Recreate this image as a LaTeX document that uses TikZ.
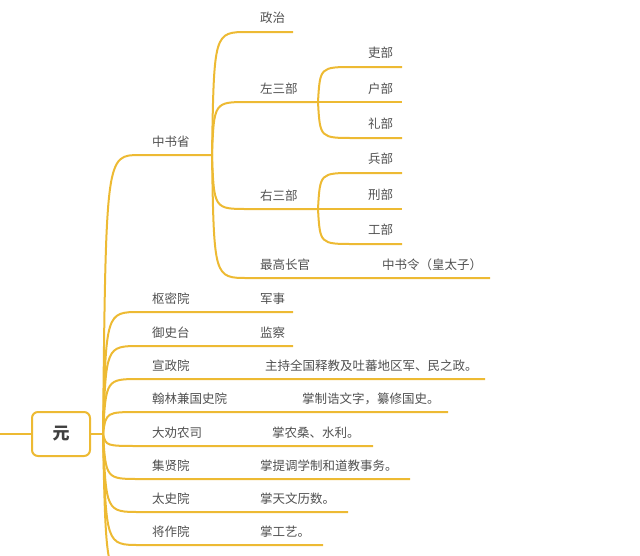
\documentclass[tikz,border=0pt]{standalone}
\usepackage{fontspec}
\newfontfamily\cjk{Noto Sans CJK SC}
\definecolor{br}{HTML}{EDBA33}
\definecolor{tx}{HTML}{505050}
\begin{document}
\begin{tikzpicture}[x=1pt,y=-1pt,
  ln/.style={draw=br,line width=2pt},
  lb/.style={anchor=west,inner sep=0pt,text=tx,font=\cjk\fontsize{12.5}{14}\selectfont}]
\useasboundingbox (0,0) rectangle (640,555);
\clip (0,0) rectangle (640,555);
\node[draw=br,line width=2pt,rounded corners=6pt,fill=white,minimum width=58pt,minimum height=44pt,font=\cjk\bfseries\fontsize{17}{19}\selectfont,text=black!75] (root) at (61,434) {元};
\coordinate (L) at (0,434);
\coordinate (J) at (103,434);
\draw[ln] (L) -- (root.west);
\draw[ln] (root.east) -- (J);
% level 1
\foreach \n/\y/\e in {a/155/212, b/312/293, c/346/293, d/379/485, e/412/448, f/446/373, g/479/410, h/512/348, i/545/323, k/580/300}{
  \coordinate (s\n) at (140,\y);
  \coordinate (e\n) at (\e,\y);
  \draw[ln] (J) .. controls (106,\y) .. (s\n) -- (e\n);
}
\node[lb] (t1) at (152,142) {中书省};
\node[lb] (t2) at (152,299) {枢密院};
\node[lb] (t3) at (152,333) {御史台};
\node[lb] (t4) at (152,366) {宣政院};
\node[lb] (t5) at (152,399) {翰林兼国史院};
\node[lb] (t6) at (152,433) {大劝农司};
\node[lb] (t7) at (152,466) {集贤院};
\node[lb] (t8) at (152,499) {太史院};
\node[lb] (t9) at (152,532) {将作院};
\node[lb] (u2) at (260,299) {军事};
\node[lb] (u3) at (260,333) {监察};
\node[lb] (u4) at (265,366) {主持全国释教及吐蕃地区军、民之政。};
\node[lb] (u5) at (302,399) {掌制诰文字，纂修国史。};
\node[lb] (u6) at (272,433) {掌农桑、水利。};
\node[lb] (u7) at (260,466) {掌提调学制和道教事务。};
\node[lb] (u8) at (260,499) {掌天文历数。};
\node[lb] (u9) at (260,532) {掌工艺。};
% 中书省 children
\foreach \n/\y/\e in {p/32/293, q/102/318, r/209/318, s/278/490}{
  \coordinate (m\n) at (248,\y);
  \coordinate (n\n) at (\e,\y);
  \draw[ln] (ea) .. controls (214,\y) .. (m\n) -- (n\n);
}
\node[lb] (v1) at (260,18) {政治};
\node[lb] (v2) at (260,89) {左三部};
\node[lb] (v3) at (260,196) {右三部};
\node[lb] (v4) at (260,265) {最高长官};
\node[lb] (v5) at (382,265) {中书令（皇太子）};
\foreach \n/\y in {1/67, 2/102, 3/138}{
  \coordinate (x\n) at (354,\y);
  \coordinate (z\n) at (402,\y);
  \draw[ln] (nq) .. controls (320,\y) .. (x\n) -- (z\n);
}
\foreach \n/\y in {4/173, 5/209, 6/244}{
  \coordinate (x\n) at (354,\y);
  \coordinate (z\n) at (402,\y);
  \draw[ln] (nr) .. controls (320,\y) .. (x\n) -- (z\n);
}
\node[lb] (w1) at (368,53) {吏部};
\node[lb] (w2) at (368,89) {户部};
\node[lb] (w3) at (368,124) {礼部};
\node[lb] (w4) at (368,159) {兵部};
\node[lb] (w5) at (368,195) {刑部};
\node[lb] (w6) at (368,230) {工部};
\end{tikzpicture}
\end{document}
